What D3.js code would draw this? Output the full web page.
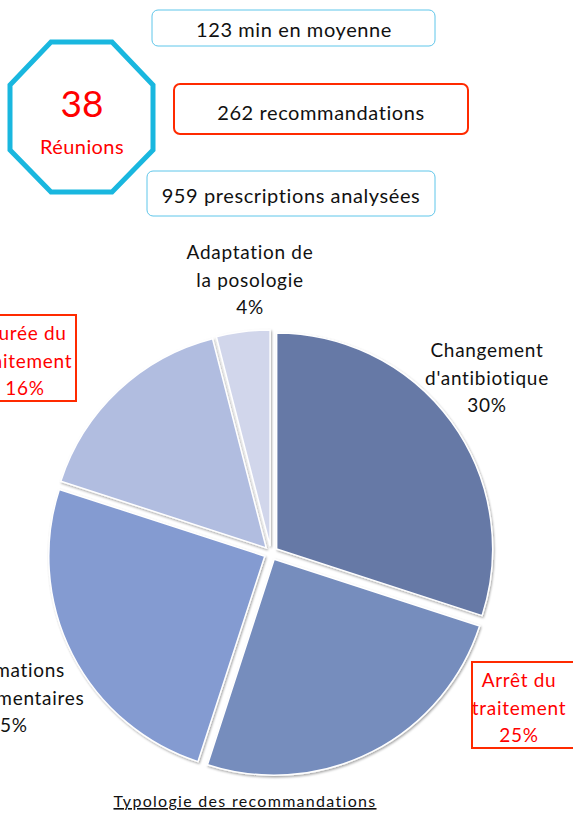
<!DOCTYPE html>
<html>
<head>
<meta charset="utf-8">
<script src="https://cdn.jsdelivr.net/npm/d3@7"></script>
<style>
  html, body { margin: 0; padding: 0; background: #fff; }
  svg { display: block; font-family: "Lato", "Open Sans", sans-serif; }
</style>
</head>
<body>
<svg width="573" height="814"></svg>
<script>
// chiffres clés
const meetings = 38;
const meetingsLabel = "Réunions";
const statValues = ["123", "262", "959"];
const statLabels = ["min en moyenne", "recommandations", "prescriptions analysées"];

// typologie des recommandations (%)
const categories = ["Changement d'antibiotique", "Arrêt du traitement", "Informations complémentaires", "Durée du traitement", "Adaptation de la posologie"];
const values = [30, 25, 25, 16, 4];
const labelLines = [
  ["Changement", "d'antibiotique"],
  ["Arrêt du", "traitement"],
  ["Informations", "complémentaires"],
  ["Durée du", "traitement"],
  ["Adaptation de", "la posologie"]
];
const highlighted = [false, true, false, true, false];
const colors = ["#6679a6", "#768dbd", "#849bd1", "#b1bde0", "#d1d6eb"];
const title = "Typologie des recommandations";

const svg = d3.select('svg');

// ombre légère des parts
const defs = svg.append('defs');
const f = defs.append('filter').attr('id', 'shadow')
  .attr('x', '-10%').attr('y', '-10%').attr('width', '120%').attr('height', '120%');
f.append('feDropShadow').attr('dx', 1).attr('dy', 1.5).attr('stdDeviation', 1)
  .attr('flood-color', '#000').attr('flood-opacity', 0.35);

// --- octogone
const oct = [[51, 42], [112, 42], [153, 85], [153, 150], [112, 192], [51, 192], [10, 150], [10, 85]];
svg.append('polygon')
  .attr('points', oct.map(p => p.join(',')).join(' '))
  .attr('fill', '#fff')
  .attr('stroke', '#19b7df')
  .attr('stroke-width', 5)
  .attr('stroke-linejoin', 'miter');

svg.append('text')
  .attr('x', 82).attr('y', 117)
  .attr('text-anchor', 'middle')
  .attr('font-size', 37)
  .attr('fill', '#ff0000')
  .text(meetings);

svg.append('text')
  .attr('x', 82).attr('y', 154)
  .attr('text-anchor', 'middle')
  .attr('font-size', 20)
  .attr('letter-spacing', 0.4)
  .attr('fill', '#ff0000')
  .text(meetingsLabel);

// --- encadrés
const boxes = [
  { x: 152, y: 10, w: 283, h: 36, stroke: '#5fc6ea', sw: 1, cx: 294, ty: 37 },
  { x: 174, y: 84, w: 294, h: 50, stroke: '#ff2a00', sw: 2, cx: 321, ty: 120 },
  { x: 147, y: 171, w: 288, h: 45, stroke: '#5fc6ea', sw: 1, cx: 291, ty: 203 }
];

boxes.forEach((b, i) => {
  svg.append('rect')
    .attr('x', b.x).attr('y', b.y)
    .attr('width', b.w).attr('height', b.h)
    .attr('rx', 6)
    .attr('fill', '#fff')
    .attr('stroke', b.stroke)
    .attr('stroke-width', b.sw);
  svg.append('text')
    .attr('x', b.cx).attr('y', b.ty)
    .attr('text-anchor', 'middle')
    .attr('font-size', 20)
    .attr('letter-spacing', 0.6)
    .attr('fill', '#111')
    .text(statValues[i] + ' ' + statLabels[i]);
});

// --- camembert
const cx = 271, cy = 553, radius = 216, explode = 7;

const pie = d3.pie().sort(null).value(d => d)(values);
const arc = d3.arc().innerRadius(0).outerRadius(radius);

const slices = svg.append('g').attr('transform', `translate(${cx},${cy})`);

slices.selectAll('path')
  .data(pie)
  .enter().append('path')
  .attr('d', arc)
  .attr('transform', d => {
    const a = (d.startAngle + d.endAngle) / 2;
    return `translate(${Math.sin(a) * explode},${-Math.cos(a) * explode})`;
  })
  .attr('fill', (d, i) => colors[i])
  .attr('stroke', '#fff')
  .attr('stroke-width', 1.5)
  .attr('filter', 'url(#shadow)');

// étiquettes (placées à la main comme dans l'original)
const labelPos = [[487, 357], [519, 687], [8, 677], [25, 340], [250, 259]];
const lineH = 27.5;

pie.forEach((d, i) => {
  const [lx, ly] = labelPos[i];
  const lines = labelLines[i].concat([values[i] + '%']);
  if (highlighted[i]) {
    const bw = 114, bh = 86;
    svg.append('rect')
      .attr('x', lx - bw / 2 + (i === 1 ? 10 : -6)).attr('y', ly - 25)
      .attr('width', bw).attr('height', bh)
      .attr('fill', '#fff')
      .attr('stroke', '#ff2a00')
      .attr('stroke-width', 2);
  }
  const t = svg.append('text')
    .attr('text-anchor', 'middle')
    .attr('font-size', 19)
    .attr('fill', highlighted[i] ? '#ff0000' : '#111');
  lines.forEach((ln, j) => {
    t.append('tspan')
      .attr('x', lx)
      .attr('y', ly + j * lineH)
      .attr('letter-spacing', 0.7)
      .text(ln);
  });
});

// titre
svg.append('text')
  .attr('x', 245).attr('y', 807)
  .attr('text-anchor', 'middle')
  .attr('font-size', 16)
  .attr('letter-spacing', 1.3)
  .attr('fill', '#111')
  .attr('text-decoration', 'underline')
  .text(title);
</script>
</body>
</html>
